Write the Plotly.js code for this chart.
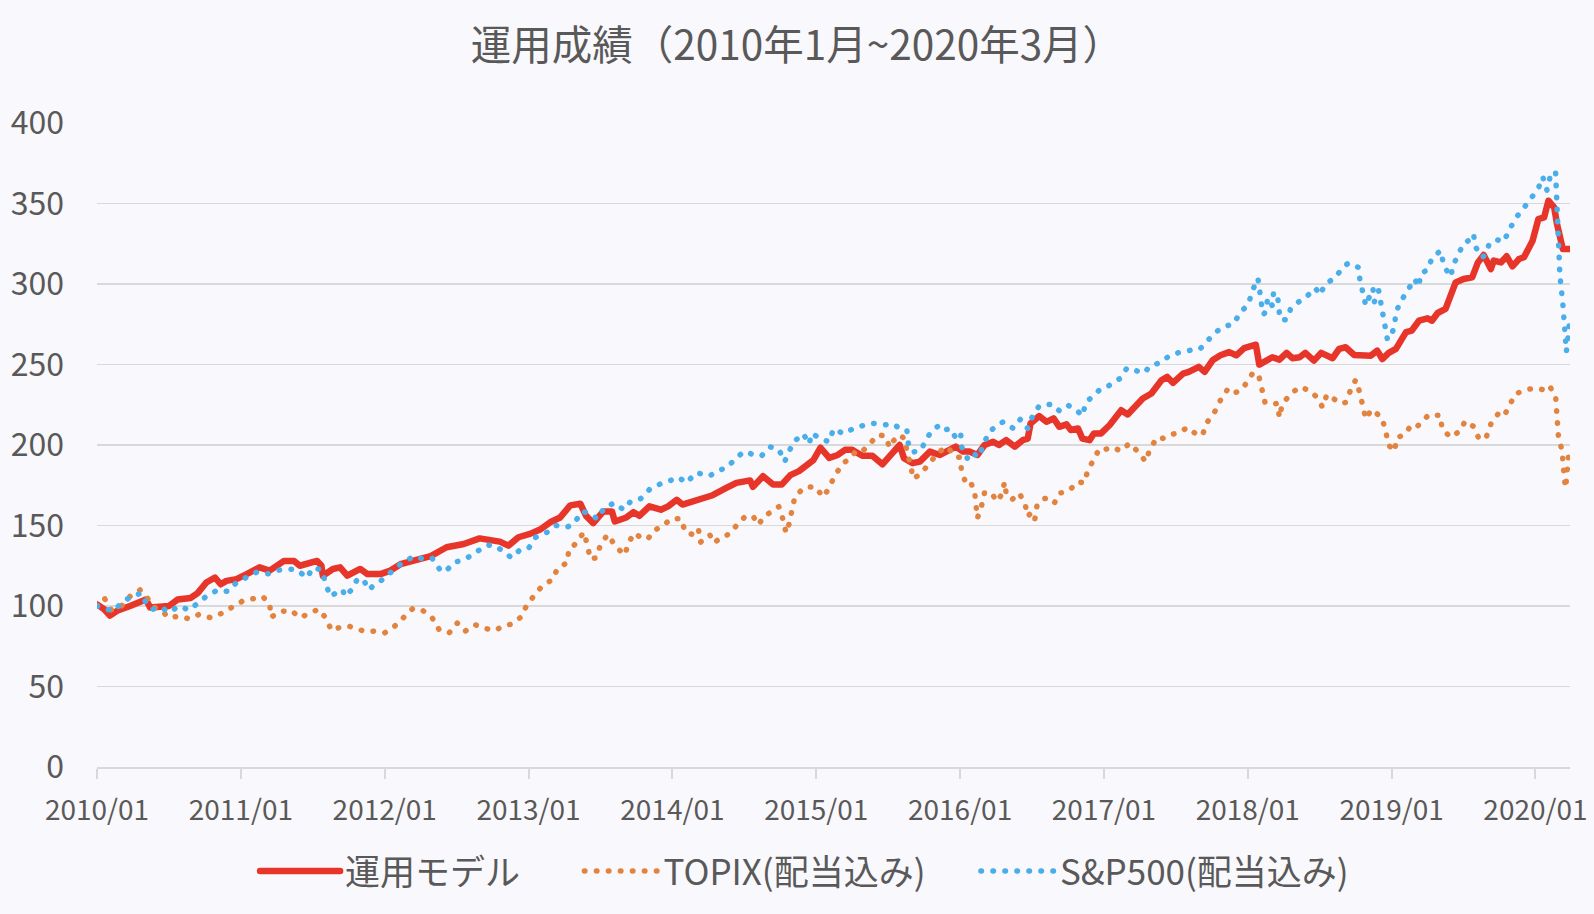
<!DOCTYPE html>
<html>
<head>
<meta charset="utf-8">
<script src="https://cdn.plot.ly/plotly-3.0.1.min.js"></script>
<style>
html,body{margin:0;padding:0;background:#f9f8fc;}
#chart{width:1594px;height:914px;}
.scatterlayer .js-line, .legendlines .js-line {stroke-linecap: round; stroke-linejoin: round;}
</style>
</head>
<body>
<div id="chart"></div>
<script>
// ---- data (x in decimal years) ----
const modelX = [2010.00,2010.05,2010.09,2010.14,2010.23,2010.30,2010.34,2010.37,2010.44,2010.50,2010.56,2010.65,2010.70,2010.76,2010.82,2010.86,2010.90,2010.97,2011.04,2011.13,2011.20,2011.30,2011.37,2011.41,2011.53,2011.56,2011.57,2011.64,2011.69,2011.74,2011.83,2011.88,2011.97,2012.04,2012.11,2012.20,2012.32,2012.43,2012.55,2012.66,2012.73,2012.80,2012.86,2012.93,2013.01,2013.08,2013.15,2013.22,2013.29,2013.36,2013.40,2013.45,2013.52,2013.58,2013.60,2013.68,2013.73,2013.77,2013.84,2013.92,2013.97,2014.03,2014.07,2014.14,2014.21,2014.28,2014.375,2014.445,2014.54,2014.56,2014.63,2014.70,2014.76,2014.82,2014.88,2014.93,2014.98,2015.03,2015.09,2015.15,2015.20,2015.25,2015.32,2015.39,2015.46,2015.52,2015.58,2015.61,2015.67,2015.72,2015.79,2015.86,2015.93,2015.97,2016.02,2016.065,2016.12,2016.17,2016.23,2016.27,2016.32,2016.38,2016.435,2016.47,2016.49,2016.55,2016.60,2016.65,2016.69,2016.74,2016.77,2016.82,2016.85,2016.90,2016.93,2016.98,2017.04,2017.12,2017.165,2017.20,2017.27,2017.33,2017.40,2017.44,2017.48,2017.55,2017.59,2017.66,2017.70,2017.755,2017.81,2017.87,2017.92,2017.975,2018.02,2018.056,2018.08,2018.125,2018.17,2018.22,2018.27,2018.31,2018.36,2018.40,2018.46,2018.51,2018.59,2018.635,2018.68,2018.74,2018.855,2018.90,2018.935,2018.98,2019.03,2019.10,2019.14,2019.19,2019.25,2019.28,2019.32,2019.375,2019.41,2019.445,2019.50,2019.56,2019.60,2019.64,2019.69,2019.71,2019.76,2019.80,2019.84,2019.885,2019.92,2019.98,2020.02,2020.06,2020.09,2020.13,2020.15,2020.17,2020.19,2020.24];
const modelY = [101,98,94,97,100,103,104,99,99,100,104,105,108,114.6,117.7,113.5,115.6,116.7,119.8,124,122,128,128,125,128,125,118.8,123,124,118.8,123,119.8,119.8,122,126,128,131,136.5,138.5,142,141,140,137.5,142.7,144.8,147.5,152,155,162.5,163.5,156,151.5,158.7,158.7,152.5,155,158.3,156,161.9,159.8,161.9,166,163,165,166,168.8,173.3,176.5,178,174,180.6,175.4,175.4,181.3,183.8,187.5,190.6,198.3,192,193.8,197,197,193.3,193.3,188,194,200,191.8,188.7,189.7,195.9,193.8,196.9,199,195.9,195.9,193.8,200,202,200,203,199,203,204,213.4,218,214.4,216.5,211.3,212.8,209.3,210.3,204,203,207.2,207.2,212.4,221.6,219,222.7,228.9,232,240.2,242.3,238.6,244.3,245.4,248.5,245.4,252.6,255.7,257.7,255.7,260.2,260.8,262.3,249.9,252.4,254.5,253,257.2,253.9,254.5,257.2,252.4,257.2,253.9,259.7,260.7,255.9,255.5,258.6,253.4,257.2,259.7,270.1,271.1,277.2,278.7,277.2,282,284.5,292.8,301,303.1,304.1,313.4,318,309.3,314.5,313.4,317.2,311,315.5,316.6,326.9,340.3,341.4,351.7,347.6,337.2,327.9,321.7,321.7];

const topixX = [2010.00,2010.05,2010.10,2010.17,2010.23,2010.30,2010.35,2010.38,2010.45,2010.50,2010.57,2010.64,2010.71,2010.79,2010.86,2010.94,2011.01,2011.09,2011.15,2011.20,2011.21,2011.27,2011.35,2011.41,2011.47,2011.54,2011.59,2011.63,2011.71,2011.75,2011.81,2011.86,2011.92,2012.00,2012.07,2012.13,2012.196,2012.26,2012.33,2012.38,2012.45,2012.505,2012.56,2012.63,2012.70,2012.77,2012.82,2012.88,2012.95,2012.99,2013.04,2013.09,2013.17,2013.20,2013.27,2013.28,2013.32,2013.36,2013.385,2013.41,2013.43,2013.47,2013.50,2013.55,2013.58,2013.61,2013.67,2013.695,2013.74,2013.78,2013.83,2013.87,2013.93,2013.99,2014.06,2014.09,2014.135,2014.18,2014.195,2014.24,2014.26,2014.29,2014.34,2014.40,2014.46,2014.51,2014.56,2014.60,2014.63,2014.69,2014.74,2014.77,2014.79,2014.81,2014.83,2014.85,2014.91,2014.94,2014.99,2015.05,2015.09,2015.13,2015.185,2015.24,2015.29,2015.33,2015.38,2015.43,2015.48,2015.51,2015.53,2015.58,2015.62,2015.63,2015.66,2015.67,2015.72,2015.76,2015.80,2015.85,2015.91,2015.97,2016.00,2016.01,2016.04,2016.07,2016.10,2016.107,2016.12,2016.15,2016.17,2016.22,2016.255,2016.285,2016.31,2016.32,2016.36,2016.41,2016.45,2016.47,2016.50,2016.52,2016.535,2016.58,2016.61,2016.655,2016.69,2016.725,2016.77,2016.82,2016.86,2016.89,2016.93,2016.97,2017.01,2017.07,2017.11,2017.18,2017.24,2017.29,2017.32,2017.37,2017.41,2017.45,2017.52,2017.58,2017.65,2017.685,2017.715,2017.77,2017.81,2017.86,2017.90,2017.96,2018.00,2018.04,2018.08,2018.10,2018.12,2018.16,2018.205,2018.22,2018.24,2018.30,2018.36,2018.39,2018.43,2018.47,2018.52,2018.55,2018.58,2018.64,2018.68,2018.72,2018.75,2018.78,2018.80,2018.82,2018.86,2018.90,2018.93,2018.96,2018.975,2019.02,2019.035,2019.09,2019.14,2019.18,2019.22,2019.26,2019.34,2019.35,2019.41,2019.48,2019.51,2019.57,2019.61,2019.66,2019.69,2019.74,2019.78,2019.82,2019.86,2019.935,2020.005,2020.075,2020.10,2020.14,2020.145,2020.15,2020.16,2020.185,2020.19,2020.20,2020.21,2020.22,2020.225,2020.235];
const topixY = [100,105,97.5,100,106,110,105,100,97,92.7,93.7,92,94.8,92.7,95.2,99.6,103,104.6,106,101.5,93,96.5,97.3,92.7,94.8,98,92.7,84.8,87.5,87.5,85.8,84.2,84.4,83.3,87.5,93,98.5,97.5,92.7,85,83.5,89.4,84.4,88.3,86,84.8,87.5,88.7,93.3,101,107,112,116.7,123.3,127,135.4,138,143.3,145.8,137.5,129,130,138,144.4,141,136.5,131.7,139.6,145.4,142.3,141.7,146.9,149.4,154.2,154.2,145.8,144.6,148.3,139.6,142.7,144.2,139.2,142.7,144.8,151.7,155.8,155.8,150.4,155.2,158.7,161.7,153.5,145.4,150.6,159,167.3,173.3,173.5,174.2,167.7,173.5,181.3,188.3,192.5,197.5,196.9,202,206.3,205.6,198.5,202,206.3,203.5,195.2,186.9,179.2,181.4,185.6,189.7,195.5,199,192.4,192.4,183.9,176.3,177.3,171.8,163.9,154.6,162.5,170.5,170.1,164.9,168.6,176.9,170.1,166,170.1,164.1,155.7,158.4,154,162.5,166.6,167,163.9,170.1,170.7,172.8,177.3,176.3,184.5,191.8,197.9,197.3,198.6,196.3,201,195.5,189.7,197.5,204.7,204.1,206.2,207.6,210.9,206.2,206.2,213.8,220.6,227.8,234.6,231.9,234.6,239.8,245.4,241.7,233.4,226.4,225.2,225.8,217.1,225.6,231.8,236.1,235.1,233.8,230.5,223.5,231.3,229.9,225.8,226.4,235.3,240.4,232.1,224.5,216.2,222,218.9,217.2,208.6,200.3,196.1,204.4,206.5,212.7,211.7,214.8,218.9,218.3,210,204.8,209,214.8,211.5,203.3,205.4,213.1,219.3,217.7,225.1,231.7,234.4,235.4,233.8,236.3,230.3,222,213.1,204.8,196.5,188.2,179.5,173.4,182.2,190.3,199];

const spX = [2010.00,2010.06,2010.12,2010.17,2010.24,2010.31,2010.35,2010.39,2010.45,2010.50,2010.57,2010.64,2010.69,2010.76,2010.84,2010.91,2010.97,2011.05,2011.11,2011.19,2011.24,2011.33,2011.39,2011.46,2011.50,2011.56,2011.59,2011.62,2011.66,2011.71,2011.72,2011.77,2011.81,2011.85,2011.89,2011.92,2011.96,2012.01,2012.07,2012.13,2012.21,2012.28,2012.33,2012.38,2012.42,2012.48,2012.55,2012.63,2012.70,2012.75,2012.82,2012.88,2012.94,2013.00,2013.05,2013.13,2013.19,2013.27,2013.32,2013.37,2013.42,2013.48,2013.53,2013.60,2013.66,2013.71,2013.78,2013.84,2013.92,2013.98,2014.04,2014.10,2014.16,2014.21,2014.26,2014.31,2014.38,2014.44,2014.50,2014.57,2014.62,2014.68,2014.74,2014.78,2014.80,2014.84,2014.91,2014.95,2014.97,2015.03,2015.09,2015.12,2015.19,2015.23,2015.27,2015.32,2015.39,2015.48,2015.53,2015.58,2015.63,2015.64,2015.67,2015.73,2015.76,2015.81,2015.85,2015.88,2015.93,2015.97,2016.004,2016.01,2016.05,2016.08,2016.13,2016.16,2016.20,2016.25,2016.30,2016.37,2016.42,2016.47,2016.50,2016.55,2016.64,2016.69,2016.75,2016.81,2016.85,2016.875,2016.93,2016.98,2017.04,2017.11,2017.16,2017.22,2017.28,2017.32,2017.39,2017.46,2017.53,2017.60,2017.66,2017.70,2017.75,2017.82,2017.90,2017.95,2018.005,2018.03,2018.07,2018.08,2018.09,2018.11,2018.12,2018.14,2018.17,2018.18,2018.21,2018.22,2018.23,2018.27,2018.30,2018.35,2018.41,2018.47,2018.50,2018.54,2018.61,2018.66,2018.70,2018.77,2018.78,2018.80,2018.82,2018.87,2018.88,2018.91,2018.92,2018.94,2018.96,2018.97,2018.99,2019.02,2019.03,2019.06,2019.11,2019.16,2019.19,2019.20,2019.25,2019.28,2019.34,2019.36,2019.40,2019.41,2019.43,2019.47,2019.50,2019.54,2019.57,2019.58,2019.63,2019.65,2019.68,2019.73,2019.78,2019.82,2019.87,2019.91,2019.97,2020.02,2020.05,2020.08,2020.09,2020.11,2020.14,2020.145,2020.15,2020.165,2020.17,2020.19,2020.20,2020.215,2020.225,2020.235];
const spY = [100,98,97,102,106,108,100,98,99,96,100,97.5,101,106,110,109,114.6,118,121,120,122,123,122.5,117.5,123.8,122.5,114,106,108,110,106,110,116.7,116.7,110,112.5,114.6,118,123,127.5,131,128.7,129.6,123,121,127,128.7,133,137.5,138,134.4,130,134.8,135.8,142.7,145.8,150,149,151.7,158.7,157.7,154,161.5,164,159.8,165,166.7,172.3,176,177.7,180,176.5,182.7,182,180.8,183.8,186,191.7,196,193.8,193.3,198.8,197.3,189.6,193.8,201.7,207,200.6,207.3,203.8,202,210,207,209,210.8,211.9,213.5,212.5,213.3,210.3,209.3,201,195.5,196.9,202.9,209.7,211.8,208.9,210.3,204.5,207.6,199,191.8,195.5,192.4,200,207.6,212,214.4,210.3,216,210.3,217.1,224.3,225.4,221.2,224.7,221.6,218.1,226.4,230.9,235.1,237.1,241.2,247.8,245.8,244.7,249.1,251.1,255.7,257.7,258.8,259.2,262.3,267.9,273.1,275.2,282.4,287.6,295.4,303.5,298.6,289.7,281,282.4,291.3,286.6,295.2,290.1,281.4,277.7,277.9,285.1,288.6,292.3,297.5,293.2,300,304.1,310.3,313,310.3,302,294.8,286.6,297.3,289,295.9,290.7,282.4,274.6,265.9,265.9,274.1,282.4,288.6,295.9,303.1,298.3,306.2,308.9,315.9,320.7,312.8,305.2,304.6,312,319.7,325.2,327.3,331,323.4,316.6,318,325.2,327.5,326.3,334.1,341.8,346.1,353.2,359.4,366.6,358.3,362.1,369.7,368.9,355,338,322,305,288,270,258,266,275];

const seriesNames = ['運用モデル', 'TOPIX(配当込み)', 'S&P500(配当込み)'];
const seriesColors = ['#e8352a', '#e2843f', '#4aaeea'];
const tickYears = [2010,2011,2012,2013,2014,2015,2016,2017,2018,2019,2020];
const tickLabels = ['2010/01','2011/01','2012/01','2013/01','2014/01','2015/01','2016/01','2017/01','2018/01','2019/01','2020/01'];
const titleText = '運用成績（2010年1月~2020年3月）';

const FONT = '"Noto Sans CJK JP", "Noto Sans", sans-serif';
const GREY = '#595959';

const traces = [
  {x: modelX, y: modelY, name: seriesNames[0], type: 'scatter', mode: 'lines', legend: 'legend',
   line: {color: seriesColors[0], width: 6.5}},
  {x: topixX, y: topixY, name: seriesNames[1], type: 'scatter', mode: 'lines', legend: 'legend2',
   line: {color: seriesColors[1], width: 5.5, dash: '0.5px,11.5px'}},
  {x: spX, y: spY, name: seriesNames[2], type: 'scatter', mode: 'lines', legend: 'legend3',
   line: {color: seriesColors[2], width: 5.5, dash: '0.5px,11.5px'}}
];

function legendAt(xpos, w) {
  return {orientation: 'h', x: xpos, xanchor: 'left', y: -0.162, yanchor: 'middle',
          font: {family: FONT, size: 35, color: GREY}, itemwidth: w,
          bgcolor: 'rgba(0,0,0,0)', borderwidth: 0};
}

const layout = {
  width: 1594, height: 914,
  paper_bgcolor: '#f9f8fc', plot_bgcolor: '#f9f8fc',
  margin: {l: 97, r: 24, t: 123, b: 147},
  font: {family: FONT, color: GREY},
  title: {text: titleText, x: 0.5, xanchor: 'center', y: 0.95, yanchor: 'middle',
          font: {family: FONT, size: 40.5, color: GREY}},
  showlegend: true,
  legend: legendAt(0.1073, 80),
  legend2: legendAt(0.3275, 74),
  legend3: legendAt(0.5967, 74),
  xaxis: {type: 'linear', range: [2010, 2020.24], tickvals: tickYears, ticktext: tickLabels,
          showgrid: false, zeroline: false, showline: true, linecolor: '#d9d9d9', linewidth: 2,
          ticks: 'outside', ticklen: 10, tickwidth: 2, tickcolor: '#d9d9d9', ticklabelstandoff: 7,
          tickfont: {family: FONT, size: 28, color: GREY}, fixedrange: true},
  yaxis: {range: [0, 400], dtick: 50, tick0: 0, showgrid: true, gridcolor: '#d9d9d9', gridwidth: 1.5,
          zeroline: false, showline: false, ticks: '', ticklabelstandoff: 32,
          tickfont: {family: FONT, size: 32, color: GREY}, fixedrange: true}
};

Plotly.newPlot('chart', traces, layout, {displayModeBar: false, staticPlot: true});
</script>
</body>
</html>
